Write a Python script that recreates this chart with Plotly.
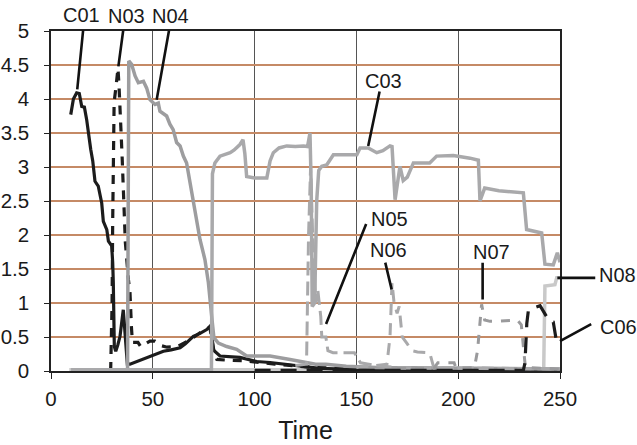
import plotly.graph_objects as go

# ---- series data (time, value) ----
c01_t = [9.7, 11.0, 12.6, 13.9, 15.1, 16.4, 17.5, 18.5, 19.5, 20.5, 21.6, 23.2, 24.9, 25.7, 27.4, 28.2,
         29.8, 30.3, 30.6, 31.1, 31.8, 32.8, 33.9, 35.5, 37.5, 38.8, 43, 47, 51, 55.2, 59, 63.4, 66,
         69.9, 73, 76.5, 78.1, 78.8, 79.7, 83, 92.8, 101, 107.6, 115, 122.3, 132, 140, 150, 160, 250]
c01_v = [3.77, 4.0, 4.09, 4.08, 3.89, 3.88, 3.70, 3.45, 3.26, 3.09, 2.79, 2.72, 2.47, 2.2, 2.08, 1.91,
         1.84, 1.6, 1.30, 0.36, 0.29, 0.38, 0.51, 0.9, 0.1, 0.1, 0.15, 0.19, 0.24, 0.29, 0.31, 0.34, 0.4,
         0.51, 0.55, 0.61, 0.66, 0.6, 0.31, 0.22, 0.2, 0.14, 0.125, 0.1, 0.07, 0.04, 0.03, 0.02, 0.01, 0.01]

n03_t = [29.3, 30.0, 30.3, 30.6, 31.0, 32.0, 32.9, 33.4, 33.8, 34.5, 35.0, 35.5, 36.5, 38.0, 38.8,
         39.5, 40.0, 42.7, 44, 48.6, 51, 54.5, 57, 62, 68, 74, 78, 80, 81.5, 86, 95, 110, 130, 160, 250]
n03_v = [0.0, 1.0, 2.2, 3.0, 3.95, 4.2, 4.45, 4.2, 3.8, 3.45, 3.1, 2.6, 1.9, 1.35, 1.15,
         0.65, 0.42, 0.42, 0.36, 0.44, 0.44, 0.37, 0.35, 0.36, 0.45, 0.58, 0.64, 0.3, 0.17, 0.16, 0.15,
         0.1, 0.05, 0.02, 0.01]

n04_t = [10, 37.6, 38.2, 39.6, 41.3, 42.9, 45.4, 47, 48.6, 51.1, 52.7, 53.5, 56.8, 58.4, 60, 61.7,
         63.4, 65, 66.6, 68.3, 70.7, 73.2, 75.6, 77.3, 78.9, 80, 82.2, 86.3, 91.2, 96.1, 100, 107.6,
         117.4, 125.6, 130, 135, 145, 160, 200, 250]
n04_v = [0.02, 0.02, 4.56, 4.51, 4.34, 4.24, 4.26, 4.16, 3.99, 3.92, 3.94, 3.82, 3.75, 3.63, 3.55, 3.36,
         3.31, 3.16, 3.06, 2.77, 2.33, 1.93, 1.64, 1.3, 0.81, 0.49, 0.41, 0.36, 0.32, 0.22, 0.22, 0.22,
         0.17, 0.12, 0.1, 0.1, 0.07, 0.05, 0.04, 0.03]

c03_t = [10, 78.8, 79.3, 80.5, 83, 88, 90, 92.8, 94.3, 95.2, 96.1, 100, 106, 107.6, 109.2, 112,
         115.8, 120, 124, 126, 127.2, 127.8, 128.3, 129.5, 130.5, 131.5, 133, 135.4, 138.7, 145,
         150.2, 151.8, 155.8, 160, 163, 166.5, 167.5, 169, 171.4, 173, 175, 178, 184.5, 186, 189.4,
         197.6, 205.8, 209.9, 210.7, 213, 220, 232, 233.6, 238, 241, 242.6, 246.7, 248.7, 250]
c03_v = [0.02, 0.02, 2.9, 3.06, 3.16, 3.21, 3.25, 3.33, 3.40, 3.2, 2.86, 2.84, 2.84, 3.09, 3.21, 3.28,
         3.31, 3.3, 3.31, 3.3, 3.5, 2.72, 0.95, 1.0, 2.5, 2.95, 3.01, 3.03, 3.18, 3.18,
         3.18, 3.28, 3.28, 3.21, 3.24, 3.31, 3.3, 2.52, 3.01, 2.8, 2.85, 3.06, 3.06, 3.06, 3.16,
         3.17, 3.13, 3.1, 2.5, 2.69, 2.65, 2.62, 2.08, 2.05, 2.03, 1.57, 1.56, 1.74, 1.6]

n05_t = [120, 125.5, 126.5, 127.5, 128.5, 130, 131, 132.5, 133, 135, 136, 138.5, 149, 152, 160, 170, 250]
n05_v = [0.08, 0.1, 2.0, 3.0, 2.0, 1.0, 1.2, 0.8, 0.5, 0.5, 0.3, 0.27, 0.27, 0.12, 0.08, 0.05, 0.03]

n06_t = [150, 165, 166.5, 167.5, 168.5, 170, 171, 172.5, 175, 177, 180, 184, 186, 188, 250]
n06_v = [0.05, 0.1, 0.5, 1.3, 1.0, 0.85, 0.95, 0.5, 0.4, 0.3, 0.28, 0.27, 0.27, 0.05, 0.03]

n07_t = [170, 188, 190, 198, 199, 208, 209.5, 210.5, 211.5, 213, 215.6, 219, 225.5, 229, 231, 233, 250]
n07_v = [0.04, 0.04, 0.12, 0.12, 0.04, 0.05, 0.3, 0.6, 0.98, 0.75, 0.73, 0.73, 0.75, 0.75, 0.68, 0.05, 0.03]

n08_t = [9, 242, 242.6, 247.5, 248.4, 250]
n08_v = [0.02, 0.02, 1.25, 1.27, 1.37, 1.37]

c06_t = [100, 232, 232.8, 233.7, 234.5, 240.2, 244.8, 246.7, 248.4, 249.5]
c06_v = [0.01, 0.01, 0.12, 0.7, 0.9, 0.96, 0.73, 0.72, 0.41, 0.4]

# ---- callout labels: name and the point each leader touches ----
label_names = ["C01", "N03", "N04", "C03", "N05", "N06", "N07", "N08", "C06"]
label_x = [12.9, 33.1, 51.9, 155.8, 135.1, 167.3, 212.0, 248.7, 250.0]
label_y = [4.14, 4.48, 3.99, 3.31, 0.69, 1.20, 1.05, 1.37, 0.44]

# pixel offsets: leader tail and text centre, relative to the touched point
tail_dx = [6, 5, 12.6, 11.7, 40.7, -6.7, 0, 39.4, 32.7]
tail_dy = [-60.7, -37.4, -70.7, -56, -101.6, -28.3, -38.3, 0, -17.7]
text_dx = [4.7, 7.7, 13.8, 15.2, 63, -2.7, 9, 59.7, 58]
text_dy = [-74, -50.7, -84, -64.7, -105.3, -39.5, -47.5, -3.3, -14.2]

FONT = "Liberation Sans, Arial, Helvetica, sans-serif"

fig = go.Figure()

def add_line(t, v, color, width, dash="solid"):
    fig.add_trace(go.Scatter(x=t, y=v, mode="lines",
                             line=dict(color=color, width=width, dash=dash),
                             hoverinfo="skip", showlegend=False))

add_line(n08_t, n08_v, "#c9c9c9", 3.5)
add_line(c01_t, c01_v, "#1c1c1c", 3.2)
add_line(n03_t, n03_v, "#1c1c1c", 3.2, "9px,8px")
add_line(n04_t, n04_v, "#9d9d9f", 3.5)
add_line(c03_t, c03_v, "#a9a9ab", 3.5)
add_line(n05_t, n05_v, "#a9a9ab", 3.0, "14px,6px")
add_line(n06_t, n06_v, "#a9a9ab", 3.0, "12px,8px")
add_line(n07_t, n07_v, "#9a9a9c", 3.0, "9px,9px")
add_line(c06_t, c06_v, "#1c1c1c", 3.2, "16px,10px")

for name, x, y, tdx, tdy, xdx, xdy in zip(label_names, label_x, label_y,
                                            tail_dx, tail_dy, text_dx, text_dy):
    # leader line
    fig.add_annotation(x=x, y=y, xref="x", yref="y", text="", showarrow=True,
                       ax=tdx, ay=tdy, axref="pixel", ayref="pixel",
                       arrowhead=0, arrowwidth=2.6, arrowcolor="#111111",
                       standoff=0, startstandoff=0)
    # label text
    fig.add_annotation(x=x, y=y, xref="x", yref="y", text=name, showarrow=False,
                       xshift=xdx, yshift=-xdy, xanchor="center", yanchor="middle",
                       font=dict(family=FONT, size=20, color="#1a1a1a"))

fig.update_layout(
    width=637, height=445,
    margin=dict(l=51, r=77, t=31, b=74),
    paper_bgcolor="white", plot_bgcolor="white",
    font=dict(family=FONT, size=20.5, color="#1a1a1a"),
    showlegend=False,
)
fig.update_xaxes(
    range=[0, 250], tickvals=[0, 50, 100, 150, 200, 250],
    ticks="outside", ticklen=6, tickwidth=1.2, tickcolor="#222",
    showline=True, linecolor="#222", linewidth=1.5, mirror=True,
    showgrid=True, gridcolor="#555555", gridwidth=1, zeroline=False,
    ticklabelstandoff=3, automargin=False,
    title=dict(text="Time", standoff=12),
)
fig.update_yaxes(
    range=[0, 5], tickvals=[0, 0.5, 1, 1.5, 2, 2.5, 3, 3.5, 4, 4.5, 5],
    ticktext=["0", "0.5", "1", "1.5", "2", "2.5", "3", "3.5", "4", "4.5", "5"],
    ticks="outside", ticklen=5, tickwidth=1.2, tickcolor="#222",
    showline=True, linecolor="#222", linewidth=1.5, mirror=True,
    showgrid=True, gridcolor="#c58a66", gridwidth=1.5, zeroline=False,
    ticklabelstandoff=11, automargin=False,
)

fig.write_html("out.html")
